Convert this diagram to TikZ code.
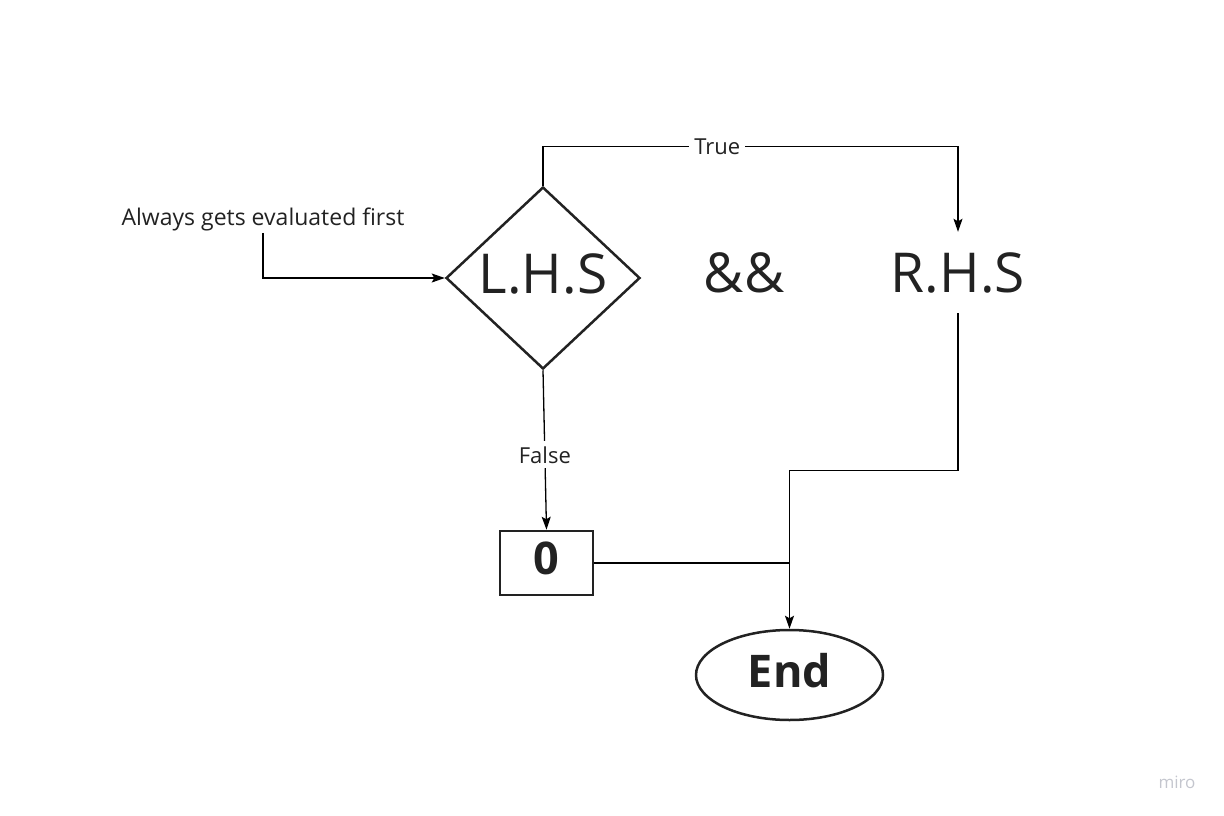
\documentclass[tikz,border=0pt]{standalone}
\usepackage{fontspec}
\setmainfont{Open Sans}
\usetikzlibrary{shapes.geometric,arrows.meta}
\definecolor{ink}{HTML}{222222}
\definecolor{wm}{HTML}{C4C6CE}
\tikzset{
  conn/.style={line width=1.3pt, draw=black},
  arr/.style={conn, -{Stealth[length=13pt,width=9pt,inset=2.5pt]}},
  bigtxt/.style={font=\fontsize{55}{60}\selectfont, text=ink, inner sep=0pt},
  smalltxt/.style={font=\fontsize{22}{25}\selectfont, text=ink},
  boldtxt/.style={font=\fontsize{45}{50}\selectfont\bfseries, text=ink},
}
\begin{document}
\begin{tikzpicture}[x=1pt,y=-1pt]
\useasboundingbox (0,0) rectangle (1224,816);
\node[bigtxt, shape=diamond, draw=ink, line width=2.5pt, minimum width=194pt, minimum height=182pt, text height=39pt, text depth=9pt] (lhs) at (543,278) {L.H.S};
\node[bigtxt] (and) at (744,273) {\&\&};
\node[bigtxt, minimum height=81pt] (rhs) at (958,272.5) {R.H.S};
\node[smalltxt, font=\fontsize{23}{26}\selectfont, inner sep=2pt] (note) at (263,219) {Always gets evaluated first};
\node[boldtxt, draw=ink, line width=2.5pt, minimum width=93pt, minimum height=64pt, inner sep=0pt, text height=32pt, text depth=10pt] (zero) at (546.5,563) {0};
\node[boldtxt, shape=ellipse, draw=ink, line width=2.5pt, minimum width=187pt, minimum height=90pt, inner sep=0pt, text height=32pt, text depth=8pt] (endn) at (789.5,675) {End};
\node[font=\fontsize{17}{19}\selectfont, text=wm] (miro) at (1177,782) {miro};
% connectors
\draw[arr] (lhs.north) -- ++(0,-39) -| node[pos=0.21, fill=white, smalltxt, inner sep=5pt] {True} (rhs.north);
\draw[arr] (note.south) |- (lhs.west);
\draw[arr] (lhs.south) -- node[pos=0.53, fill=white, smalltxt, inner sep=5pt] {False} (zero.north);
\draw[conn] (zero.east) -- (zero.east -| endn.north);
\draw[arr] (rhs.south) -- ++(0,157) -| (endn.north);
\end{tikzpicture}
\end{document}
